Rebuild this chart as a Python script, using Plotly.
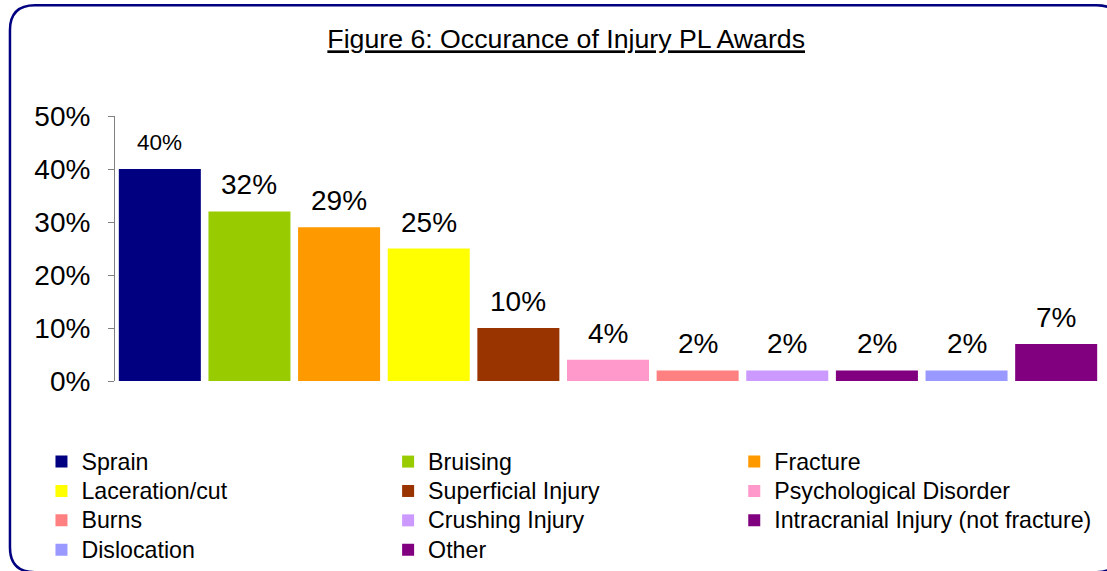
import plotly.graph_objects as go

# ---- data ----
categories = ["Sprain", "Bruising", "Fracture", "Laceration/cut", "Superficial Injury",
              "Psychological Disorder", "Burns", "Crushing Injury",
              "Intracranial Injury (not fracture)", "Dislocation", "Other"]
values = [0.40, 0.32, 0.29, 0.25, 0.10, 0.04, 0.02, 0.02, 0.02, 0.02, 0.07]
colors = ["#000080", "#99CC00", "#FF9900", "#FFFF00", "#993300", "#FF99CC",
          "#FF8080", "#CC99FF", "#800080", "#9999FF", "#800080"]
y_ticks = [0, 0.1, 0.2, 0.3, 0.4, 0.5]
title_text = "Figure 6: Occurance of Injury PL Awards"

# ---- layout geometry (pixels) ----
W, H = 1107, 571
ML, MR, MT, MB = 115, 6.4, 116, 189.5
PW, PH = W - ML - MR, H - MT - MB
FONT = "Liberation Sans, Arial, sans-serif"
LEGEND_TEXT_PX = 23.2


def px_x(px):
    return (px - ML) / PW


def px_y(py):
    return 1 - (py - MT) / PH


fig = go.Figure()

# legend columns: items are arranged row-major across 3 columns
legend_names = ["legend", "legend2", "legend3"]
for i, (cat, val, col) in enumerate(zip(categories, values, colors)):
    fig.add_trace(go.Bar(
        x=[cat], y=[val],
        name=f"<span style='font-size:{LEGEND_TEXT_PX}px'>{cat}</span>",
        marker=dict(color=col, line=dict(width=0)),
        width=0.915, legend=legend_names[i % 3], showlegend=True,
        hoverinfo="skip",
    ))
    fig.add_annotation(
        x=cat, y=val, text=f"{round(val * 100)}%", showarrow=False,
        yanchor="bottom", yshift=12 if i == 0 else 9,
        font=dict(family=FONT, size=22.5 if i == 0 else 28, color="black"),
    )

# rounded border
L, T, R, B, r = 10, 5, 1121, 573, 25
pts = [
    ("M", (L + r, T)), ("L", (R - r, T)), ("Q", (R, T), (R, T + r)),
    ("L", (R, B - r)), ("Q", (R, B), (R - r, B)), ("L", (L + r, B)),
    ("Q", (L, B), (L, B - r)), ("L", (L, T + r)), ("Q", (L, T), (L + r, T)),
]
path = ""
for cmd, *pp in pts:
    path += cmd + " " + " ".join(f"{px_x(a):.5f},{px_y(b):.5f}" for a, b in pp) + " "
path += "Z"
fig.add_shape(type="path", path=path, xref="paper", yref="paper",
              line=dict(color="#000080", width=2.5), fillcolor="rgba(0,0,0,0)",
              layer="above")

leg_common = dict(orientation="v", xanchor="left", yanchor="top",
                  font=dict(family=FONT, size=20.3, color="black"),
                  bgcolor="rgba(0,0,0,0)", borderwidth=0, tracegroupgap=0,
                  itemclick=False, itemdoubleclick=False)
leg_top = px_y(442.5)

fig.update_layout(
    width=W, height=H,
    margin=dict(l=ML, r=MR, t=MT, b=MB, pad=0, autoexpand=False),
    paper_bgcolor="white", plot_bgcolor="white",
    barmode="overlay",
    showlegend=True,
    title=dict(text=f"<u>{title_text}</u>", x=px_x(566), xref="paper", xanchor="center",
               y=1 - 39 / H, yref="container", yanchor="middle",
               font=dict(family=FONT, size=26.7, color="black")),
    xaxis=dict(type="category", categoryorder="array", categoryarray=categories,
               range=[-0.5, len(categories) - 0.5], showticklabels=False,
               showline=False, showgrid=False, zeroline=False, ticks=""),
    yaxis=dict(range=[0, 0.5], tickvals=y_ticks, tickformat=".0%",
               showline=True, linecolor="#808080", linewidth=1,
               ticks="outside", ticklen=6, tickcolor="#808080",
               showgrid=False, zeroline=False, ticklabelstandoff=12,
               tickfont=dict(family=FONT, size=28, color="black")),
    legend=dict(x=px_x(41.5), y=leg_top, **leg_common),
    legend2=dict(x=px_x(388), y=leg_top, **leg_common),
    legend3=dict(x=px_x(734), y=leg_top, **leg_common),
)

fig.write_html(
    "out.html",
    config={"displayModeBar": False},
    post_script="document.body.style.margin='0';document.body.style.overflow='hidden';",
)
